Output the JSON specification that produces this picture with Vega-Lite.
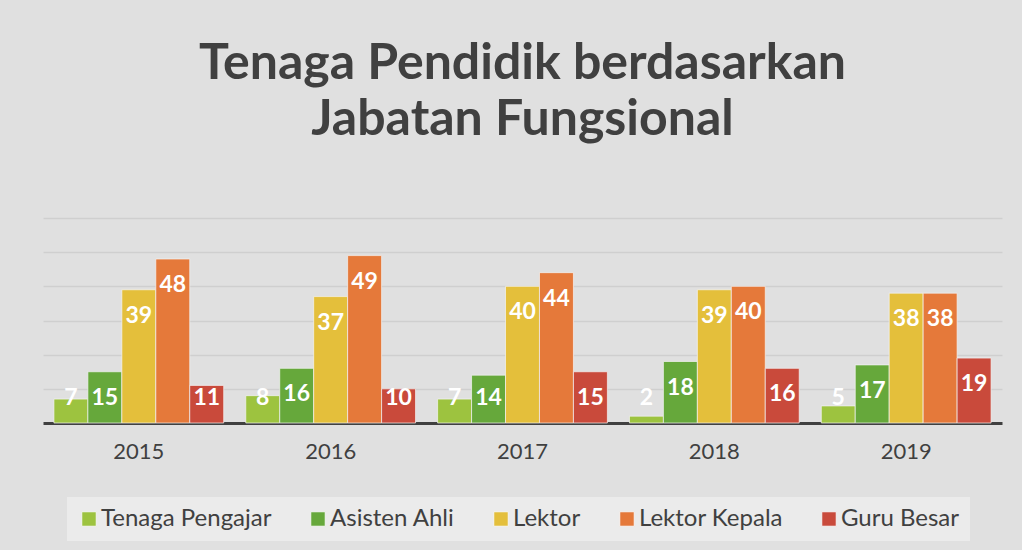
{
  "$schema": "https://vega.github.io/schema/vega-lite/v6.json",
  "autosize": {"type": "none"},
  "width": 959,
  "height": 205,
  "padding": {"left": 43, "top": 218, "right": 20, "bottom": 127},
  "background": "#e0e0e0",
  "title": {
    "text": ["Tenaga Pendidik berdasarkan", "Jabatan Fungsional"],
    "font": "Lato",
    "fontSize": 50,
    "fontWeight": "bold",
    "color": "#404040",
    "anchor": "middle",
    "lineHeight": 56,
    "offset": 73
  },
  "data": {
    "values": [
      {"year": "2015", "kategori": "Tenaga Pengajar", "value": 7},
      {"year": "2015", "kategori": "Asisten Ahli", "value": 15},
      {"year": "2015", "kategori": "Lektor", "value": 39},
      {"year": "2015", "kategori": "Lektor Kepala", "value": 48},
      {"year": "2015", "kategori": "Guru Besar", "value": 11},
      {"year": "2016", "kategori": "Tenaga Pengajar", "value": 8},
      {"year": "2016", "kategori": "Asisten Ahli", "value": 16},
      {"year": "2016", "kategori": "Lektor", "value": 37},
      {"year": "2016", "kategori": "Lektor Kepala", "value": 49},
      {"year": "2016", "kategori": "Guru Besar", "value": 10},
      {"year": "2017", "kategori": "Tenaga Pengajar", "value": 7},
      {"year": "2017", "kategori": "Asisten Ahli", "value": 14},
      {"year": "2017", "kategori": "Lektor", "value": 40},
      {"year": "2017", "kategori": "Lektor Kepala", "value": 44},
      {"year": "2017", "kategori": "Guru Besar", "value": 15},
      {"year": "2018", "kategori": "Tenaga Pengajar", "value": 2},
      {"year": "2018", "kategori": "Asisten Ahli", "value": 18},
      {"year": "2018", "kategori": "Lektor", "value": 39},
      {"year": "2018", "kategori": "Lektor Kepala", "value": 40},
      {"year": "2018", "kategori": "Guru Besar", "value": 16},
      {"year": "2019", "kategori": "Tenaga Pengajar", "value": 5},
      {"year": "2019", "kategori": "Asisten Ahli", "value": 17},
      {"year": "2019", "kategori": "Lektor", "value": 38},
      {"year": "2019", "kategori": "Lektor Kepala", "value": 38},
      {"year": "2019", "kategori": "Guru Besar", "value": 19}
    ]
  },
  "encoding": {
    "x": {
      "field": "year",
      "type": "nominal",
      "scale": {"paddingInner": 0.115, "paddingOuter": 0.057},
      "axis": {
        "title": null,
        "labelAngle": 0,
        "labelFont": "Lato",
        "labelFontSize": 22,
        "labelColor": "#404040",
        "labelPadding": 18,
        "ticks": false,
        "domainColor": "#404040",
        "domainWidth": 3,
        "grid": false
      }
    },
    "xOffset": {
      "field": "kategori",
      "type": "nominal",
      "sort": ["Tenaga Pengajar", "Asisten Ahli", "Lektor", "Lektor Kepala", "Guru Besar"],
      "scale": {"paddingInner": 0, "paddingOuter": 0}
    }
  },
  "layer": [
    {
      "mark": {"type": "bar", "stroke": "#f4f4f4", "strokeWidth": 1, "strokeOpacity": 0.7},
      "encoding": {
        "y": {
          "field": "value",
          "type": "quantitative",
          "scale": {"domain": [0, 60], "nice": false},
          "axis": {
            "title": null,
            "labels": false,
            "ticks": false,
            "domain": false,
            "grid": true,
            "gridColor": "#cfcfcf",
            "gridWidth": 1.5,
            "values": [10, 20, 30, 40, 50, 60]
          }
        },
        "color": {
          "field": "kategori",
          "type": "nominal",
          "sort": ["Tenaga Pengajar", "Asisten Ahli", "Lektor", "Lektor Kepala", "Guru Besar"],
          "scale": {
            "domain": ["Tenaga Pengajar", "Asisten Ahli", "Lektor", "Lektor Kepala", "Guru Besar"],
            "range": ["#9dc33f", "#66a83b", "#e4bf3b", "#e5793a", "#c94a3b"]
          },
          "legend": {
            "title": null,
            "orient": "none",
            "legendX": 24,
            "legendY": 279,
            "direction": "horizontal",
            "padding": 10,
            "fillColor": "#ebebeb",
            "symbolType": "square",
            "symbolSize": 210,
            "symbolStrokeColor": "#f4f4f4",
            "symbolStrokeWidth": 1,
            "labelFont": "Lato",
            "labelFontSize": 24,
            "labelColor": "#404040",
            "labelOffset": 0,
            "labelLimit": 400,
            "columnPadding": 34
          }
        }
      }
    },
    {
      "mark": {
        "type": "text",
        "font": "Lato",
        "fontWeight": "bold",
        "fontSize": 23,
        "color": "#ffffff",
        "baseline": "top",
        "dy": 15,
        "y": {"expr": "min(scale('y', datum.value), scale('y', 15))"}
      },
      "encoding": {
        "text": {"field": "value", "type": "quantitative"}
      }
    }
  ],
  "config": {
    "view": {"stroke": null}
  }
}
